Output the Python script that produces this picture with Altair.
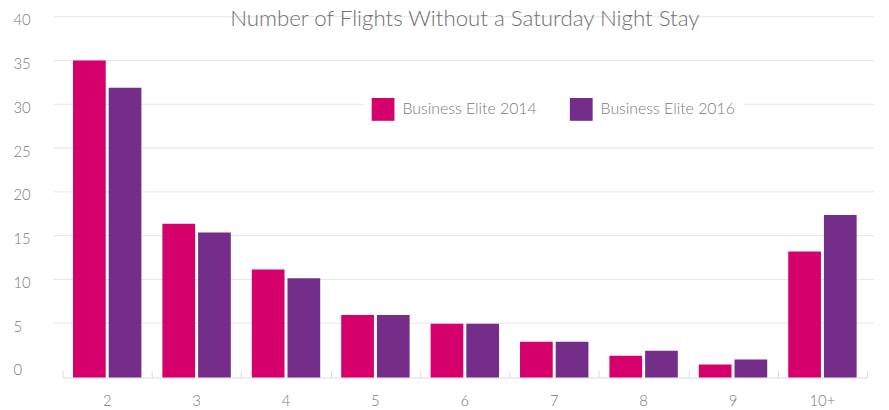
import altair as alt
import pandas as pd

categories = ["2", "3", "4", "5", "6", "7", "8", "9", "10+"]
series = ["Business Elite 2014", "Business Elite 2016"]
be2014 = [35.0, 16.35, 11.15, 5.95, 4.95, 2.9, 1.3, 0.3, 13.2]
be2016 = [31.9, 15.35, 10.15, 5.95, 4.95, 2.9, 1.85, 0.85, 17.35]
y_ticks = [0, 5, 10, 15, 20, 25, 30, 35, 40]
grid_values = [5, 10, 15, 20, 25, 30, 35, 40]
title_text = "Number of Flights Without a Saturday Night Stay"
colors = ["#d6006d", "#742d89"]

Y_MIN = -1.19
W, H = 812, 364
FONT = "Lato"
LABEL_COLOR = "#7a7a7a"

rows = []
for i, c in enumerate(categories):
    rows.append({"cat": c, "series": series[0], "value": be2014[i]})
    rows.append({"cat": c, "series": series[1], "value": be2016[i]})
df = pd.DataFrame(rows)

yscale = alt.Scale(domain=[Y_MIN, 40], nice=False, zero=False)
xscale = alt.Scale(domain=categories, paddingInner=0, paddingOuter=0)

yaxis = alt.Axis(
    values=y_ticks, title=None, ticks=False, domain=False, grid=False,
    labelAlign="left", labelPadding=50, labelBaseline="middle",
    labelOffset=3, labelFontSize=15, labelColor=LABEL_COLOR,
    labelFont=FONT, labelFontWeight=300, labelFlush=False,
    labelOverlap=False,
)

grid = alt.Chart(pd.DataFrame({"v": grid_values})).mark_rule(
    color="#e6e6e6", strokeWidth=1
).encode(
    y=alt.Y("v:Q", scale=yscale, axis=yaxis),
    x=alt.value(-9),
    x2=alt.value(W + 7),
)

bars = alt.Chart(df).mark_bar(opacity=1).encode(
    x=alt.X(
        "cat:N",
        scale=xscale,
        sort=categories,
        axis=alt.Axis(
            orient="bottom", title=None, labelAngle=0, ticks=False,
            domainColor="#dcdcdc", labelFontSize=15, labelColor=LABEL_COLOR,
            labelPadding=16, grid=False, labelFont=FONT, labelFontWeight=300,
        ),
    ),
    xOffset=alt.XOffset(
        "series:N",
        scale=alt.Scale(domain=series, paddingInner=0.0833, paddingOuter=0.294),
    ),
    y=alt.Y("value:Q", scale=yscale, axis=yaxis),
    y2=alt.datum(Y_MIN),
    color=alt.Color(
        "series:N",
        scale=alt.Scale(domain=series, range=colors),
        legend=alt.Legend(
            title=None, orient="none", legendX=304, legendY=74,
            direction="horizontal", symbolType="square", symbolSize=529,
            fillColor="white", padding=8, columnPadding=33,
            labelFontSize=16, labelColor=LABEL_COLOR, labelFont=FONT,
            labelFontWeight=300, labelOffset=8, symbolStrokeWidth=0,
            symbolOpacity=1,
        ),
    ),
)

ticks = alt.Chart(df).mark_point(opacity=0).encode(
    x=alt.X(
        "cat:N",
        scale=xscale,
        sort=categories,
        axis=alt.Axis(
            orient="top", offset=-H, labels=False, domain=False, ticks=True,
            tickBand="extent", tickSize=7, tickColor="#dcdcdc", title=None,
            grid=False,
        ),
    ),
    y=alt.value(0),
)

title = alt.Chart(pd.DataFrame({"t": [title_text]})).mark_text(
    font=FONT, fontSize=22.5, fontWeight=300, color="#707070",
    align="center", baseline="alphabetic",
).encode(
    text="t:N",
    x=alt.value(406),
    y=alt.value(9),
)

chart = alt.layer(grid, bars, ticks, title).resolve_axis(
    x="independent"
).properties(
    width=W,
    height=H,
    padding={"left": 55, "top": 7, "right": 14, "bottom": 31},
    autosize=alt.AutoSizeParams(type="none"),
    background="white",
).configure_view(stroke=None)

chart.save("out.html", embed_options={"renderer": "svg", "actions": False})
